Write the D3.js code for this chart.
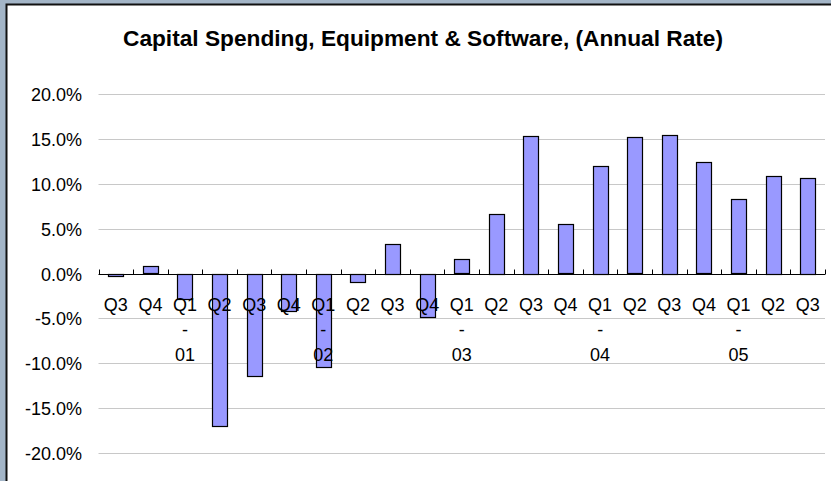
<!DOCTYPE html>
<html>
<head>
<meta charset="utf-8">
<script src="https://cdn.jsdelivr.net/npm/d3@7"></script>
<style>
  html, body { margin: 0; padding: 0; background: #a3b5c7; }
  svg { display: block; }
</style>
</head>
<body>
<svg id="chart" width="831" height="481"></svg>
<script>
// Quarterly categories: quarter label and the year printed beneath Q1
const quarters = ["Q3","Q4","Q1","Q2","Q3","Q4","Q1","Q2","Q3","Q4","Q1","Q2","Q3","Q4","Q1","Q2","Q3","Q4","Q1","Q2","Q3"];
const years    = ["","","01","","","","02","","","","03","","","","04","","","","05","",""];
// Annual-rate growth, percent
const growth   = [-0.2, 0.8, -2.8, -16.9, -11.4, -4.1, -10.4, -0.9, 3.3, -4.8, 1.6, 6.7, 15.4, 5.5, 12.0, 15.2, 15.5, 12.4, 8.3, 10.9, 10.7];
const yTicks   = [20, 15, 10, 5, 0, -5, -10, -15, -20];

const svg = d3.select("#chart");
const font = "'Liberation Sans', Arial, sans-serif";

// White chart panel with dark left/top edge
svg.append("rect").attr("x", 6).attr("y", 4).attr("width", 825).attr("height", 477).attr("fill", "#fff");
svg.append("path").attr("d", "M6.5,481V4.5H831").attr("fill", "none").attr("stroke", "#111").attr("stroke-width", 2);

const margin = { left: 98.5, right: 825, top: 94.3, bottom: 453 };
const ids = quarters.map((q, i) => i);

const x = d3.scaleBand().domain(ids).range([margin.left, margin.right]).paddingInner(0.565).paddingOuter(0.2825);
const xb = d3.scaleBand().domain(ids).range([margin.left, margin.right]);
const y = d3.scaleLinear().domain([-20, 20]).range([margin.bottom, margin.top]);

// Title
svg.append("text")
  .attr("x", 423).attr("y", 45.5)
  .attr("text-anchor", "middle")
  .attr("font-family", font).attr("font-weight", "bold").attr("font-size", 22.7)
  .text("Capital Spending, Equipment & Software, (Annual Rate)");

// Gridlines
svg.append("g").selectAll("line").data(yTicks.filter(t => t !== 0)).join("line")
  .attr("x1", margin.left).attr("x2", margin.right)
  .attr("y1", d => Math.round(y(d)) + 0.5).attr("y2", d => Math.round(y(d)) + 0.5)
  .attr("stroke", "#c8c8c8").attr("stroke-width", 1);

// Y axis labels (plain hyphen for negatives)
const yAxis = d3.axisLeft(y).tickValues(yTicks).tickSize(0).tickPadding(16.5)
  .tickFormat(d => (d < 0 ? "-" : "") + Math.abs(d).toFixed(1) + "%");
svg.append("g").attr("transform", `translate(${margin.left},0)`).call(yAxis)
  .call(g => g.select(".domain").remove())
  .selectAll("text").attr("font-family", font).attr("font-size", 18).attr("fill", "#000").attr("dy", "0.36em");

// Bars
svg.append("g").selectAll("rect").data(growth).join("rect")
  .attr("x", (d, i) => Math.round(x(i)) + 0.5)
  .attr("width", Math.round(x.bandwidth()))
  .attr("y", d => Math.round(Math.min(y(d), y(0))) + 0.5)
  .attr("height", d => Math.max(1, Math.round(Math.abs(y(d) - y(0)))))
  .attr("fill", "#9999ff").attr("stroke", "#000").attr("stroke-width", 1.2);

// Zero axis line with tick marks between categories
const y0 = Math.round(y(0)) + 0.5;
svg.append("line").attr("x1", margin.left).attr("x2", margin.right)
  .attr("y1", y0).attr("y2", y0).attr("stroke", "#000");
const tickXs = ids.map(i => xb(i)).concat([margin.right]);
svg.append("g").selectAll("line").data(tickXs).join("line")
  .attr("x1", d => Math.round(d) + 0.5).attr("x2", d => Math.round(d) + 0.5)
  .attr("y1", y0 - 5).attr("y2", y0)
  .attr("stroke", "#000");

// Category labels
const lab = svg.append("g").attr("font-family", font).attr("font-size", 18).attr("text-anchor", "middle").attr("fill", "#000");
quarters.forEach((q, i) => {
  const cx = xb(i) + xb.bandwidth() / 2;
  lab.append("text").attr("x", cx).attr("y", 310.5).text(q);
  if (years[i]) {
    lab.append("text").attr("x", cx).attr("y", 335.5).text("-");
    lab.append("text").attr("x", cx).attr("y", 360.5).text(years[i]);
  }
});
</script>
</body>
</html>
